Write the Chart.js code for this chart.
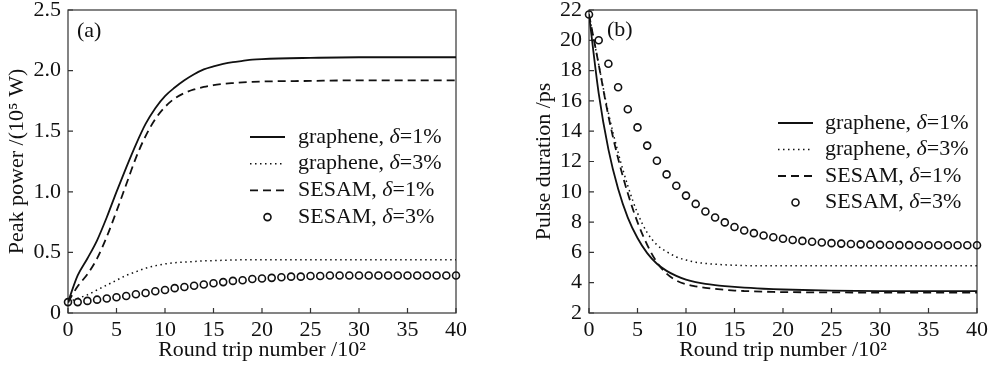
<!DOCTYPE html>
<html>
<head>
<meta charset="utf-8">
<script src="https://cdn.jsdelivr.net/npm/chart.js@4.4.1/dist/chart.umd.min.js"></script>
<style>
  html, body { margin: 0; padding: 0; background: #fff; }
  #wrap { position: relative; width: 998px; height: 366px; overflow: hidden; }
  #chartA { position: absolute; left: 0; top: 0; }
  #chartB { position: absolute; left: 500px; top: 0; }
</style>
</head>
<body>
<div id="wrap">
  <canvas id="chartA" width="470" height="366"></canvas>
  <canvas id="chartB" width="498" height="366"></canvas>
</div>
<script>
// round trips (x 10^2) used by the curves
const tripsLine = [0, 1, 2, 3, 4, 5, 6, 7, 8, 9, 10, 11, 12, 13, 14, 15, 16, 17, 18, 19, 20, 25, 30, 35, 40];
// round trips for the circle markers
const tripsDots = [0, 1, 2, 3, 4, 5, 6, 7, 8, 9, 10, 11, 12, 13, 14, 15, 16, 17, 18, 19, 20,
                   21, 22, 23, 24, 25, 26, 27, 28, 29, 30, 31, 32, 33, 34, 35, 36, 37, 38, 39, 40];

const seriesLabels = ['graphene, δ=1%', 'graphene, δ=3%', 'SESAM, δ=1%', 'SESAM, δ=3%'];

// (a) peak power /(10^5 W)
const powerGraphene1 = [0.09, 0.31, 0.45, 0.6, 0.79, 1.0, 1.2, 1.39, 1.56, 1.69, 1.79, 1.86, 1.92, 1.97, 2.01,
                        2.035, 2.055, 2.07, 2.08, 2.09, 2.095, 2.105, 2.11, 2.11, 2.11];
const powerGraphene3 = [0.09, 0.12, 0.15, 0.19, 0.23, 0.27, 0.31, 0.34, 0.37, 0.39, 0.405, 0.415, 0.42, 0.425, 0.43,
                        0.432, 0.435, 0.437, 0.44, 0.44, 0.44, 0.44, 0.44, 0.44, 0.44];
const powerSesam1 = [0.09, 0.22, 0.32, 0.45, 0.63, 0.84, 1.06, 1.28, 1.46, 1.6, 1.7, 1.77, 1.815, 1.845, 1.865,
                     1.88, 1.89, 1.897, 1.903, 1.907, 1.91, 1.915, 1.92, 1.92, 1.92];
const powerSesam3 = [0.09, 0.09, 0.1, 0.11, 0.12, 0.13, 0.14, 0.155, 0.165, 0.18, 0.19, 0.205, 0.215, 0.225, 0.235,
                     0.245, 0.255, 0.265, 0.27, 0.28, 0.285, 0.29, 0.295, 0.3, 0.3, 0.305, 0.305, 0.31, 0.31,
                     0.31, 0.31, 0.31, 0.31, 0.31, 0.31, 0.31, 0.31, 0.31, 0.31, 0.31, 0.31];

// (b) pulse duration /ps
const durGraphene1 = [21.7, 16.5, 12.8, 10.2, 8.3, 6.95, 5.95, 5.25, 4.78, 4.45, 4.2, 4.03, 3.92, 3.84, 3.78,
                      3.73, 3.68, 3.64, 3.6, 3.57, 3.55, 3.48, 3.45, 3.44, 3.44];
const durGraphene3 = [21.7, 18.4, 15.2, 12.6, 10.4, 8.6, 7.3, 6.5, 6.05, 5.7, 5.5, 5.35, 5.27, 5.22, 5.18,
                      5.15, 5.13, 5.12, 5.12, 5.12, 5.12, 5.12, 5.12, 5.12, 5.12];
const durSesam1 = [21.7, 18.4, 15.0, 12.2, 9.9, 8.0, 6.5, 5.35, 4.6, 4.15, 3.9, 3.76, 3.66, 3.59, 3.53,
                   3.48, 3.45, 3.43, 3.41, 3.39, 3.38, 3.36, 3.35, 3.35, 3.35];
const durSesam3 = [21.7, 20.0, 18.45, 16.9, 15.45, 14.25, 13.05, 12.05, 11.15, 10.4, 9.75, 9.2, 8.7, 8.3, 7.98,
                   7.68, 7.45, 7.27, 7.12, 7.0, 6.9, 6.82, 6.76, 6.7, 6.65, 6.61, 6.58, 6.55, 6.53, 6.51,
                   6.5, 6.49, 6.48, 6.48, 6.47, 6.47, 6.47, 6.47, 6.47, 6.47, 6.47];

const INK = '#111';
const SERIF = '"Liberation Serif", "DejaVu Serif", serif';
const FS = 22;
Chart.defaults.font.family = SERIF;
Chart.defaults.font.size = FS;
Chart.defaults.color = INK;

const pts = (xs, ys) => xs.map((x, i) => ({ x: x, y: ys[i] }));

function buildSets(g1, g3, s1, s3) {
  return [
    { label: seriesLabels[0], data: pts(tripsLine, g1), borderColor: INK, borderWidth: 1.8, pointRadius: 0, cubicInterpolationMode: 'monotone' },
    { label: seriesLabels[1], data: pts(tripsLine, g3), borderColor: INK, borderWidth: 1.5, borderDash: [1.5, 3.5], pointRadius: 0, cubicInterpolationMode: 'monotone' },
    { label: seriesLabels[2], data: pts(tripsLine, s1), borderColor: INK, borderWidth: 1.8, borderDash: [8, 5], pointRadius: 0, cubicInterpolationMode: 'monotone' },
    { label: seriesLabels[3], data: pts(tripsDots, s3), borderColor: INK, showLine: false, pointRadius: 3.5, pointBorderWidth: 1.6,
      pointBackgroundColor: 'rgba(255,255,255,0)', pointBorderColor: INK, clip: false }
  ];
}

// box round the plot and inward ticks
const framePlugin = {
  id: 'frame',
  beforeDatasetsDraw(chart) {
    const { ctx, chartArea: a, scales } = chart;
    ctx.save();
    ctx.strokeStyle = '#333';
    ctx.lineWidth = 1.2;
    ctx.strokeRect(a.left, a.top, a.right - a.left, a.bottom - a.top);
    ctx.beginPath();
    scales.x.ticks.forEach(t => {
      const px = scales.x.getPixelForValue(t.value);
      ctx.moveTo(px, a.bottom); ctx.lineTo(px, a.bottom - 5);
    });
    scales.y.ticks.forEach(t => {
      const py = scales.y.getPixelForValue(t.value);
      ctx.moveTo(a.left, py); ctx.lineTo(a.left + 5, py);
    });
    ctx.stroke();
    ctx.restore();
  }
};

// legend inside the plot, with italic delta
const legendPlugin = {
  id: 'paperLegend',
  afterDraw(chart, args, opts) {
    const { ctx, chartArea: a } = chart;
    ctx.save();
    ctx.fillStyle = INK;
    ctx.textBaseline = 'middle';
    ctx.textAlign = 'left';
    ctx.font = FS + 'px ' + SERIF;
    ctx.fillText(opts.panel, a.left + opts.panelDx, a.top + opts.panelDy);

    chart.data.datasets.forEach((ds, i) => {
      const y = a.top + opts.top + i * opts.rowGap;
      const x0 = a.left + opts.left, x1 = x0 + 35;
      ctx.strokeStyle = INK;
      if (ds.showLine === false) {
        ctx.lineWidth = ds.pointBorderWidth;
        ctx.setLineDash([]);
        ctx.beginPath();
        ctx.arc((x0 + x1) / 2, y, ds.pointRadius, 0, Math.PI * 2);
        ctx.stroke();
      } else {
        ctx.lineWidth = ds.borderWidth;
        ctx.setLineDash(ds.borderDash || []);
        ctx.beginPath();
        ctx.moveTo(x0, y); ctx.lineTo(x1, y);
        ctx.stroke();
      }
      ctx.setLineDash([]);
      const parts = ds.label.split('δ');
      let tx = x1 + opts.textGap;
      ctx.font = FS + 'px ' + SERIF;
      ctx.fillText(parts[0], tx, y);
      tx += ctx.measureText(parts[0]).width;
      ctx.font = 'italic ' + FS + 'px ' + SERIF;
      ctx.fillText('δ', tx, y);
      tx += ctx.measureText('δ').width;
      ctx.font = FS + 'px ' + SERIF;
      ctx.fillText(parts[1], tx, y);
    });
    ctx.restore();
  }
};

function makeScales(yMin, yMax, yStep, yTitle, yTitlePad, yWidth, yFmt) {
  return {
    x: {
      type: 'linear', min: 0, max: 40,
      ticks: { stepSize: 5, padding: 4 },
      grid: { display: false, drawTicks: false },
      border: { display: false },
      title: { display: true, text: 'Round trip number /10²', padding: { top: 0, bottom: 3 } },
      afterFit: s => { s.height = 53; s.paddingLeft = 0; s.paddingRight = 0; }
    },
    y: {
      type: 'linear', min: yMin, max: yMax,
      ticks: { stepSize: yStep, padding: 7, callback: yFmt },
      grid: { display: false, drawTicks: false },
      border: { display: false },
      title: { display: true, text: yTitle, padding: { top: yTitlePad, bottom: 0 } },
      afterFit: s => { s.width = yWidth; s.paddingTop = 0; s.paddingBottom = 0; }
    }
  };
}

new Chart(document.getElementById('chartA'), {
  type: 'line',
  data: { datasets: buildSets(powerGraphene1, powerGraphene3, powerSesam1, powerSesam3) },
  options: {
    responsive: false,
    animation: false,
    layout: { padding: { top: 10, right: 14, left: 0, bottom: 0 } },
    scales: makeScales(0, 2.5, 0.5, 'Peak power /(10⁵ W)', 4, 68, v => (v === 0 ? '0' : v.toFixed(1))),
    plugins: {
      legend: { display: false },
      tooltip: { enabled: false },
      paperLegend: { panel: '(a)', panelDx: 9, panelDy: 21, left: 182, top: 127, rowGap: 26.7, textGap: 13 }
    }
  },
  plugins: [framePlugin, legendPlugin]
});

new Chart(document.getElementById('chartB'), {
  type: 'line',
  data: { datasets: buildSets(durGraphene1, durGraphene3, durSesam1, durSesam3) },
  options: {
    responsive: false,
    animation: false,
    layout: { padding: { top: 10, right: 21, left: 0, bottom: 0 } },
    scales: makeScales(2, 22, 2, 'Pulse duration /ps', 31, 89, v => String(v)),
    plugins: {
      legend: { display: false },
      tooltip: { enabled: false },
      paperLegend: { panel: '(b)', panelDx: 18, panelDy: 20, left: 189, top: 113, rowGap: 26.5, textGap: 12 }
    }
  },
  plugins: [framePlugin, legendPlugin]
});
</script>
</body>
</html>
